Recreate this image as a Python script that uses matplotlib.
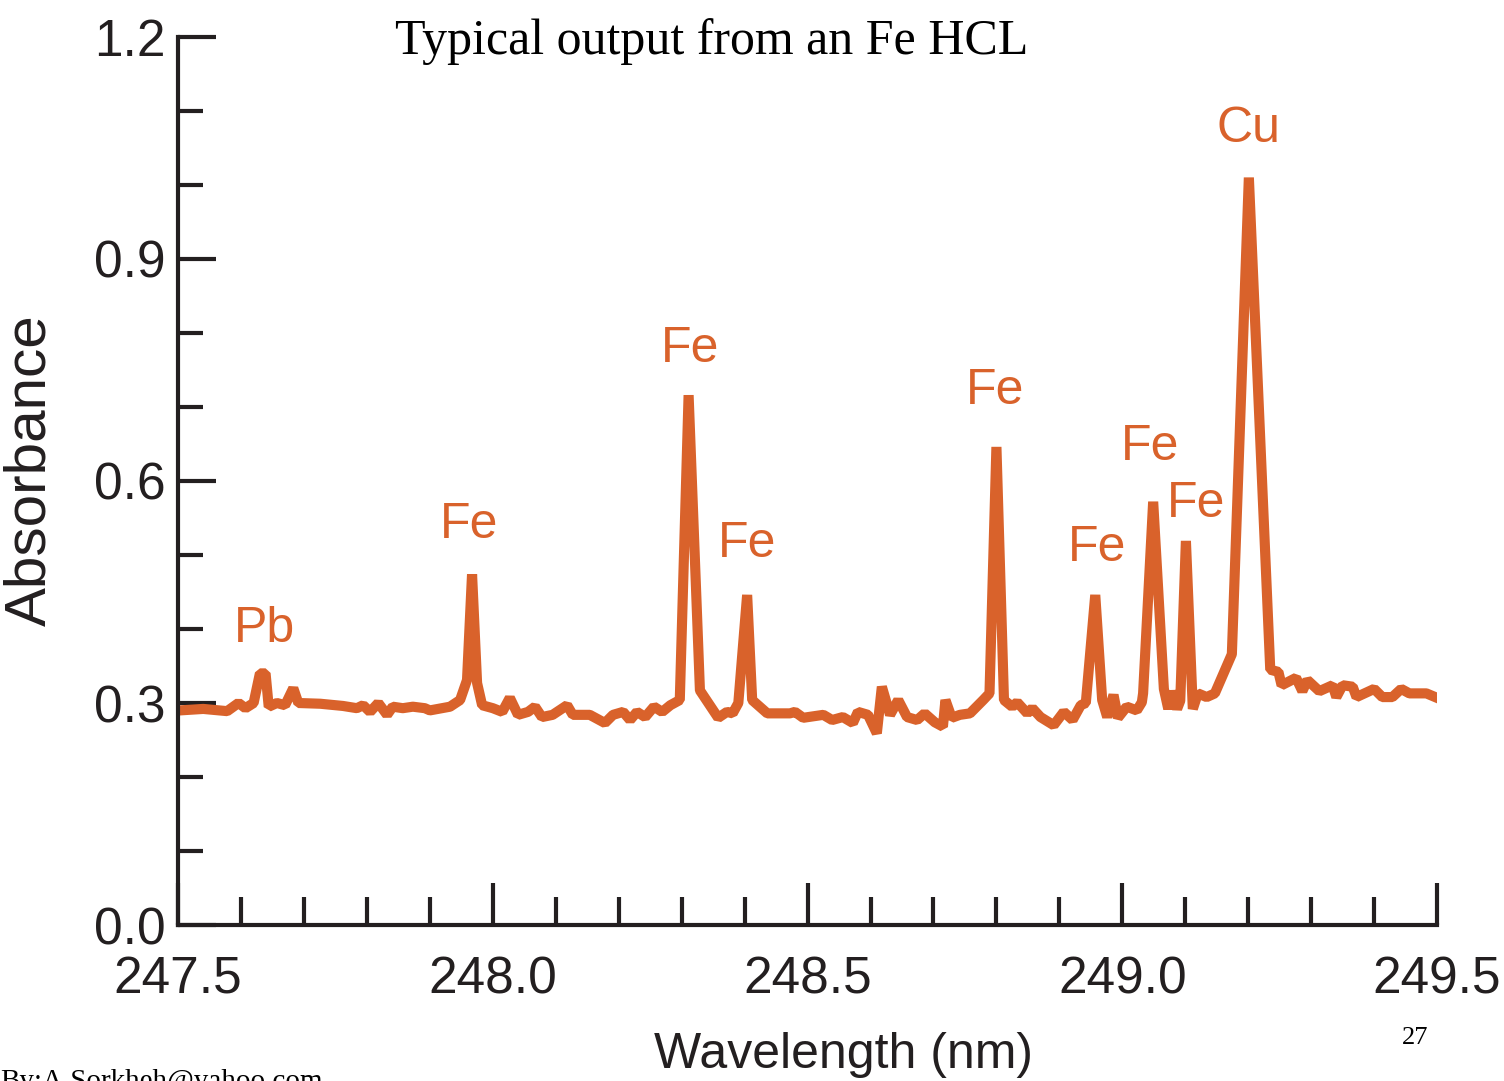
import matplotlib.pyplot as plt
from matplotlib.ticker import MultipleLocator

# spectrum (wavelength nm, absorbance)
wavelength = [
    247.503, 247.540, 247.578, 247.596, 247.607, 247.620, 247.630, 247.639, 247.644,
    247.657, 247.670, 247.683, 247.691, 247.726, 247.762, 247.784, 247.794, 247.805,
    247.818, 247.832, 247.841, 247.857, 247.873, 247.892, 247.900, 247.932, 247.948,
    247.959, 247.967, 247.975, 247.983, 248.000, 248.015, 248.027, 248.040, 248.056,
    248.067, 248.078, 248.095, 248.118, 248.127, 248.154, 248.178, 248.191, 248.207,
    248.218, 248.229, 248.242, 248.256, 248.269, 248.282, 248.297, 248.311,
    248.329, 248.358, 248.372, 248.381, 248.390, 248.404, 248.412, 248.436, 248.472,
    248.480, 248.493, 248.525, 248.539, 248.556, 248.572, 248.580, 248.596, 248.610,
    248.618, 248.631, 248.644, 248.658, 248.674, 248.686, 248.702, 248.715, 248.719,
    248.729, 248.742, 248.758, 248.779, 248.789, 248.800, 248.812, 248.825, 248.833,
    248.849, 248.857, 248.870, 248.891, 248.907, 248.921, 248.934, 248.942, 248.957,
    248.968, 248.976, 248.986, 248.993, 249.007, 249.023, 249.031, 249.033, 249.049,
    249.066, 249.073, 249.079, 249.087, 249.092, 249.101, 249.112, 249.120, 249.134,
    249.147, 249.174, 249.201, 249.235, 249.248, 249.253, 249.276, 249.286, 249.294,
    249.313, 249.334, 249.340, 249.350, 249.366, 249.372, 249.400, 249.413, 249.429,
    249.443, 249.456, 249.483, 249.497,
]
absorbance = [
    0.290, 0.292, 0.289, 0.300, 0.293, 0.300, 0.340, 0.340, 0.295,
    0.300, 0.297, 0.320, 0.300, 0.299, 0.296, 0.293, 0.297, 0.288,
    0.300, 0.284, 0.295, 0.293, 0.295, 0.293, 0.290, 0.295, 0.304,
    0.331, 0.474, 0.327, 0.297, 0.293, 0.288, 0.307, 0.284, 0.288,
    0.295, 0.281, 0.284, 0.297, 0.284, 0.284, 0.273, 0.284, 0.288,
    0.277, 0.288, 0.281, 0.295, 0.288, 0.297, 0.304, 0.716,
    0.317, 0.280, 0.288, 0.286, 0.300, 0.446, 0.304, 0.286, 0.286,
    0.288, 0.280, 0.284, 0.277, 0.281, 0.273, 0.288, 0.284, 0.259,
    0.322, 0.284, 0.304, 0.281, 0.277, 0.286, 0.274, 0.268, 0.304,
    0.280, 0.284, 0.286, 0.304, 0.313, 0.646, 0.304, 0.295, 0.301,
    0.286, 0.293, 0.281, 0.270, 0.288, 0.277, 0.297, 0.300, 0.446,
    0.304, 0.281, 0.311, 0.280, 0.295, 0.290, 0.301, 0.313, 0.572,
    0.319, 0.292, 0.316, 0.292, 0.303, 0.519, 0.292, 0.313, 0.308,
    0.313, 0.366, 1.010, 0.345, 0.342, 0.324, 0.334, 0.316, 0.331,
    0.316, 0.324, 0.308, 0.324, 0.322, 0.308, 0.319, 0.308, 0.308,
    0.319, 0.313, 0.313, 0.308,
]

# peak labels
peak_names = ['Pb', 'Fe', 'Fe', 'Fe', 'Fe', 'Fe', 'Fe', 'Fe', 'Cu']
peak_x = [247.638, 247.962, 248.313, 248.404, 248.798, 248.960, 249.044, 249.117, 249.201]
peak_y = [0.400, 0.540, 0.779, 0.515, 0.722, 0.509, 0.646, 0.569, 1.076]

orange = '#D9622B'
dark = '#231F20'

plt.rcParams['font.family'] = ['Liberation Sans', 'DejaVu Sans']

fig = plt.figure(figsize=(15.04, 10.81), dpi=100)
ax = fig.add_axes([0.1184, 0.1443, 0.8371, 0.8215])

ax.plot(wavelength, absorbance, color=orange, linewidth=7.3, solid_joinstyle='bevel')

for name, x, y in zip(peak_names, peak_x, peak_y):
    ax.text(x, y, name, color=orange, fontsize=36, ha='center', va='center')

ax.set_xlim(247.5, 249.5)
ax.set_ylim(0.0, 1.2)
ax.xaxis.set_major_locator(MultipleLocator(0.5))
ax.xaxis.set_minor_locator(MultipleLocator(0.1))
ax.yaxis.set_major_locator(MultipleLocator(0.3))
ax.yaxis.set_minor_locator(MultipleLocator(0.1))
ax.xaxis.set_major_formatter(plt.FormatStrFormatter('%.1f'))
ax.yaxis.set_major_formatter(plt.FormatStrFormatter('%.1f'))

for side in ['top', 'right']:
    ax.spines[side].set_visible(False)
for side in ['left', 'bottom']:
    ax.spines[side].set_color(dark)
    ax.spines[side].set_linewidth(3)

ax.tick_params(axis='x', which='major', direction='in', length=30, width=3, color=dark,
               labelsize=37, labelcolor=dark, pad=22)
ax.tick_params(axis='x', which='minor', direction='in', length=20, width=3, color=dark)
ax.tick_params(axis='y', which='major', direction='in', length=27, width=3, color=dark,
               labelsize=37, labelcolor=dark, pad=9)
ax.tick_params(axis='y', which='minor', direction='in', length=18, width=3, color=dark)

ax.set_ylabel('Absorbance', fontsize=42, color=dark)
ax.yaxis.set_label_coords(-0.0955, 0.512)

fig.text(0.561, 0.012, 'Wavelength (nm)', fontsize=36, color=dark, ha='center',
         va='baseline')
fig.text(0.4735, 0.950, 'Typical output from an Fe HCL', family='Liberation Serif',
         fontsize=36, ha='center', va='baseline', color='black')
fig.text(0.941, 0.040, '27', family='Liberation Serif', fontsize=19, ha='center',
         va='center', color='black')
fig.text(0.0, -0.007, 'By:A.Sorkheh@yahoo.com', family='Liberation Serif', fontsize=21,
         ha='left', va='baseline', color='black')

fig.savefig('out.png', dpi=100)
